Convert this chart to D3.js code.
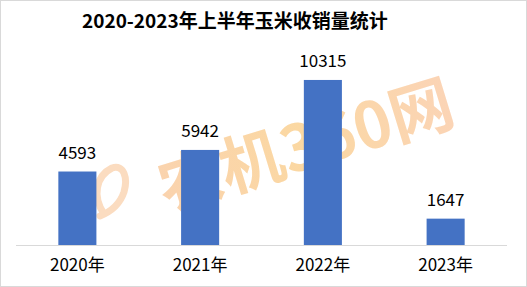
<!doctype html>
<meta charset="utf-8">
<head>
<script src="https://d3js.org/d3.v7.min.js"></script>
<style>
  body { margin: 0; background: #fff; }
  text { font-family: "Noto Sans CJK SC", "Noto Sans", sans-serif; }
</style>
</head>
<body>
<svg width="527" height="287"></svg>
<script>
    // data
    let years = ["2020年", "2021年", "2022年", "2023年"];
    let values = [4593, 5942, 10315, 1647];
    let title = "2020-2023年上半年玉米收销量统计";

    let svg = d3.select("svg");
    let width = +svg.attr("width");
    let height = +svg.attr("height");

    svg.append("rect")
        .attr("x", 0.5).attr("y", 0.5)
        .attr("width", width - 1).attr("height", height - 1)
        .attr("fill", "#fff")
        .attr("stroke", "#d9d9d9");

    let x = d3.scaleBand()
        .domain(years)
        .range([16, 507])
        .paddingInner(0.69)
        .paddingOuter(0.345);

    let y = d3.scaleLinear()
        .domain([0, 12000])
        .range([245, 53]);

    //
    // watermark, sits behind the bars
    //
    let defs = svg.append("defs");
    let grad = defs.append("linearGradient")
        .attr("id", "wm")
        .attr("x1", "0").attr("x2", "1").attr("y1", "0").attr("y2", "0");
    grad.append("stop").attr("offset", "0").attr("stop-color", "#fad3ae");
    grad.append("stop").attr("offset", "0.5").attr("stop-color", "#fbd8a2");
    grad.append("stop").attr("offset", "1").attr("stop-color", "#fbd4b6");

    let wm = svg.append("g")
        .attr("transform", "translate(306,146) rotate(-17)");
    wm.append("text")
        .attr("text-anchor", "middle")
        .attr("dy", "0.35em")
        .attr("font-size", 64)
        .attr("font-weight", "bold")
        .attr("font-family", "'DejaVu Serif', 'Noto Sans CJK SC', serif")
        .attr("fill", "url(#wm)")
        .text("农机360网");

    svg.append("path")
        .attr("d", "M104,214 C92,196 96,176 112,168 C124,164 128,178 124,192 C120,204 110,212 100,216")
        .attr("fill", "none")
        .attr("stroke", "#fbdcc0")
        .attr("stroke-width", 7)
        .attr("stroke-linecap", "round");

    //
    // bars
    //
    svg.selectAll(".bar")
        .data(values)
        .enter().append("rect")
        .attr("class", "bar")
        .attr("x", (d, i) => x(years[i]))
        .attr("y", (d) => y(d))
        .attr("width", x.bandwidth())
        .attr("height", (d) => y(0) - y(d))
        .attr("fill", "#4472c4");

    svg.selectAll(".val")
        .data(values)
        .enter().append("text")
        .attr("class", "val")
        .attr("x", (d, i) => x(years[i]) + x.bandwidth() / 2)
        .attr("y", (d) => y(d) - 13)
        .attr("text-anchor", "middle")
        .attr("font-size", 17)
        .attr("fill", "#000")
        .text((d) => d);

    // category axis
    svg.append("line")
        .attr("x1", 16).attr("x2", 507)
        .attr("y1", y(0) + 0.5).attr("y2", y(0) + 0.5)
        .attr("stroke", "#d9d9d9");

    svg.selectAll(".cat")
        .data(years)
        .enter().append("text")
        .attr("class", "cat")
        .attr("x", (d) => x(d) + x.bandwidth() / 2)
        .attr("y", 271)
        .attr("text-anchor", "middle")
        .attr("font-size", 17)
        .attr("fill", "#000")
        .text((d) => d);

    svg.append("text")
        .attr("x", 82)
        .attr("y", 28)
        .attr("font-size", 19)
        .attr("font-weight", "bold")
        .attr("fill", "#000")
        .text(title);
</script>
</body>
